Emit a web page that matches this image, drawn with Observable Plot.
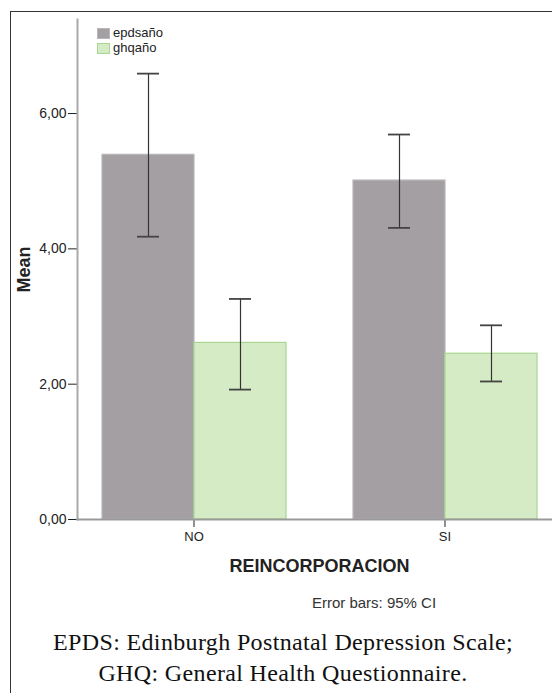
<!DOCTYPE html>
<html><head><meta charset="utf-8">
<script src="https://cdn.jsdelivr.net/npm/d3@7"></script>
<script src="https://cdn.jsdelivr.net/npm/@observablehq/plot@0.6"></script>
<style>
html,body{margin:0;padding:0;background:#fff;}
#wrap{position:relative;width:552px;height:693px;overflow:hidden;font-family:"Liberation Sans",Arial,sans-serif;background:#fff;}
#border{position:absolute;left:10px;top:11px;width:700px;height:800px;border-top:1.5px solid #333;border-left:1.5px solid #333;box-sizing:border-box;}
#chart{position:absolute;left:0;top:0;}
.leg{position:absolute;font-size:13px;color:#222;white-space:nowrap;line-height:14px;}
.sw{position:absolute;width:13px;height:11px;box-sizing:border-box;}
#errnote{position:absolute;left:274px;width:200px;top:595px;text-align:center;font-size:15px;line-height:15px;color:#333;}
.cap{position:absolute;left:0;width:566px;text-align:center;font-family:"Liberation Serif","Times New Roman",serif;font-size:24px;line-height:24px;color:#111;white-space:nowrap;letter-spacing:0.35px;}
#chart [aria-label="y-axis label"], #chart [aria-label="fx-axis label"]{font-weight:bold;font-size:18px;}
#chart [aria-label="y-axis tick label"]{font-size:14px;}
</style>
</head><body>
<div id="wrap">
  <div id="border"></div>
  <div id="chart"></div>
  <div id="legend"></div>
  <div id="errnote">Error bars: 95% CI</div>
  <div class="cap" style="top:630px">EPDS: Edinburgh Postnatal Depression Scale;</div>
  <div class="cap" style="top:661px">GHQ: General Health Questionnaire.</div>
</div>
<script>
// ---- data ----
const groups = ["NO", "SI"];
const series = ["epdsaño", "ghqaño"];
const epdsMean = [5.39, 5.01];
const epdsLow  = [4.18, 4.31];
const epdsHigh = [6.59, 5.69];
const ghqMean  = [2.61, 2.45];
const ghqLow   = [1.92, 2.04];
const ghqHigh  = [3.26, 2.87];
const yTicks   = [0, 2, 4, 6];

// ---- styles ----
const fills   = ["#a39fa2", "#d5ebc6"];
const strokes = {"epdsaño": "#bab7b9", "ghqaño": "#a9d690"};

const rows = groups.flatMap((g, i) => [
  {group: g, series: series[0], mean: epdsMean[i], low: epdsLow[i], high: epdsHigh[i]},
  {group: g, series: series[1], mean: ghqMean[i],  low: ghqLow[i],  high: ghqHigh[i]}
]);

const fmt = d => d.toFixed(2).replace(".", ",");

const chart = Plot.plot({
  width: 552,
  height: 693,
  marginLeft: 76,
  marginRight: -10,
  marginTop: 19,
  marginBottom: 174,
  style: {fontFamily: "Liberation Sans, Arial, sans-serif", fontSize: "13px", color: "#222", background: "transparent"},
  fx: {domain: groups, paddingInner: 0.0714, paddingOuter: 0, tickSize: 8, tickPadding: 4,
       label: "REINCORPORACION", labelAnchor: "center", labelOffset: 52},
  x: {domain: series, paddingInner: 0, paddingOuter: 0.258, axis: null},
  y: {domain: [0, 7.39], ticks: yTicks, tickFormat: fmt, tickSize: 9, tickPadding: 2,
      label: "Mean", labelAnchor: "center", labelOffset: 60, labelArrow: "none"},
  color: {domain: series, range: fills},
  marks: [
    Plot.barY(rows, {fx: "group", x: "series", y: "mean", fill: "series",
                     stroke: d => strokes[d.series], strokeWidth: 1.2}),
    Plot.ruleX(rows, {fx: "group", x: "series", y1: "low", y2: "high", stroke: "#333", strokeWidth: 1.2}),
    Plot.tickY(rows, {fx: "group", x: "series", y: "low", stroke: "#444", strokeWidth: 1.8, insetLeft: 35, insetRight: 35}),
    Plot.tickY(rows, {fx: "group", x: "series", y: "high", stroke: "#444", strokeWidth: 1.8, insetLeft: 35, insetRight: 35}),
    Plot.frame({anchor: "left", stroke: "#aaa", strokeWidth: 2, facet: "super"}),
    Plot.frame({anchor: "bottom", stroke: "#999", strokeWidth: 2, facet: "super"})
  ]
});
document.getElementById("chart").appendChild(chart);

// legend built from the same series / colour arrays
const leg = document.getElementById("legend");
series.forEach((s, i) => {
  const sw = document.createElement("div");
  sw.className = "sw";
  sw.style.left = "97px";
  sw.style.top = (28 + i * 15) + "px";
  sw.style.background = fills[i];
  sw.style.border = "1px solid " + strokes[s];
  leg.appendChild(sw);
  const t = document.createElement("div");
  t.className = "leg";
  t.style.left = "113px";
  t.style.top = (26 + i * 15) + "px";
  t.textContent = s;
  leg.appendChild(t);
});
</script>
</body></html>
